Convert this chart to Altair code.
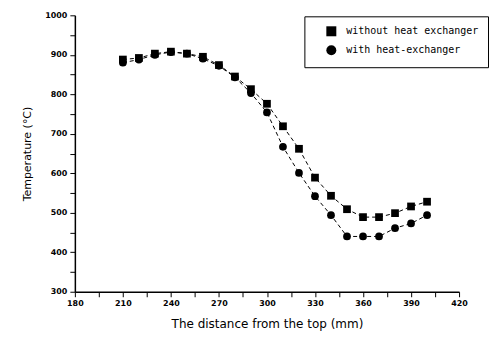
import altair as alt
import pandas as pd

distance = [210, 220, 230, 240, 250, 260, 270, 280, 290, 300,
            310, 320, 330, 340, 350, 360, 370, 380, 390, 400]
without_hx = [888, 892, 903, 908, 903, 895, 874, 845, 813, 776,
              719, 662, 589, 543, 509, 489, 489, 499, 516, 528]
with_hx = [880, 888, 900, 907, 903, 890, 872, 843, 803, 754,
           667, 601, 542, 494, 440, 440, 440, 461, 473, 494]
series_names = ["without heat exchanger", "with heat-exchanger"]
x_ticks = list(range(180, 421, 15))
y_ticks = list(range(300, 1001, 50))

rows = []
for d, a, b in zip(distance, without_hx, with_hx):
    rows.append({"distance": d, "temp": a, "series": series_names[0]})
    rows.append({"distance": d, "temp": b, "series": series_names[1]})
df = pd.DataFrame(rows)

x = alt.X(
    "distance:Q",
    scale=alt.Scale(domain=[180, 420], nice=False, zero=False),
    axis=alt.Axis(
        values=x_ticks,
        format="d",
        labelExpr="datum.value % 30 == 0 ? datum.label : ''",
        title="The distance from the top (mm)",
    ),
)
y = alt.Y(
    "temp:Q",
    scale=alt.Scale(domain=[300, 1000], nice=False, zero=False),
    axis=alt.Axis(
        values=y_ticks,
        format="d",
        labelExpr="datum.value % 100 == 0 ? datum.label : ''",
        title="Temperature (°C)",
    ),
)

lines = alt.Chart(df).mark_line(
    color="black", strokeWidth=1, strokeDash=[4, 3]
).encode(x=x, y=y, detail="series:N")

points = alt.Chart(df).mark_point(
    filled=True, color="black", size=60, opacity=1
).encode(
    x=x,
    y=y,
    shape=alt.Shape(
        "series:N",
        scale=alt.Scale(domain=series_names, range=["square", "circle"]),
        legend=alt.Legend(title=None, orient="none", legendX=230, legendY=1),
    ),
)

chart = (
    alt.layer(lines, points)
    .properties(
        width=385,
        height=277,
        autosize=alt.AutoSizeParams(type="none"),
        padding={"left": 67, "top": 7, "right": 30, "bottom": 40},
    )
    .configure_view(stroke=None)
    .configure_axis(
        grid=False,
        domainColor="black",
        domainWidth=1.5,
        tickColor="black",
        tickSize=5,
        labelColor="black",
        labelFont="DejaVu Sans",
        labelFontSize=8,
        labelFontWeight="bold",
        labelPadding=3,
        titleColor="black",
        titleFont="DejaVu Sans",
        titleFontSize=11,
        titleFontWeight="normal",
    )
    .configure_axisY(titlePadding=12)
    .configure_axisX(titlePadding=11, labelFlush=False, titleFontSize=12)
    .configure_legend(
        strokeColor="black",
        strokeWidth=1,
        fillColor="white",
        padding=9,
        symbolOffset=12,
        symbolSize=100,
        symbolFillColor="black",
        symbolStrokeColor="black",
        labelFont="DejaVu Sans Mono",
        labelFontSize=10,
        labelColor="black",
        labelOffset=9,
        rowPadding=3,
    )
)

chart.save("out.html", embed_options={"renderer": "svg", "actions": False})
